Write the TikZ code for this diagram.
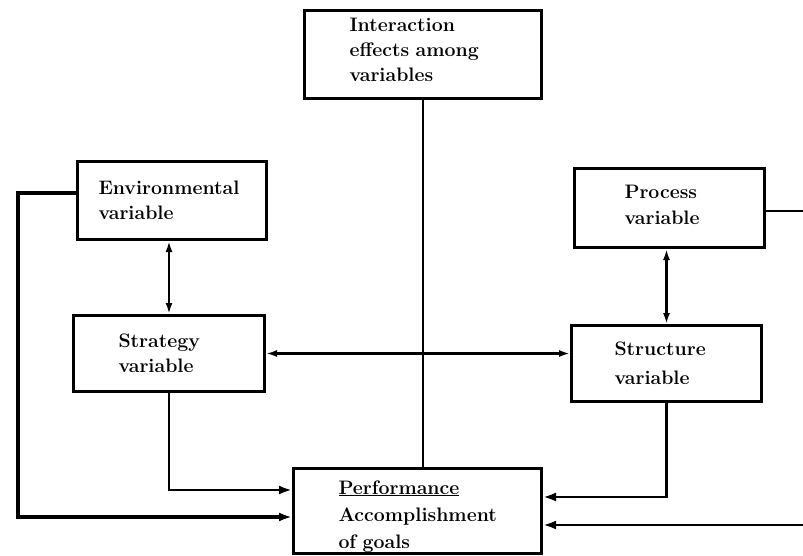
\documentclass[tikz,border=0pt]{standalone}
\usepackage{fontspec}
\usetikzlibrary{arrows.meta,calc}
\newcommand{\lnA}[3]{\makebox[#1][l]{\hspace*{#2}#3}}
\begin{document}
\begin{tikzpicture}[x=1pt,y=-1pt,
  box/.style={draw, line width=3pt, inner sep=0pt, align=left, anchor=north west,
    font=\fontsize{19.5}{25}\selectfont\bfseries},
  conn/.style={line width=2.6pt},
  arr/.style={conn, -{Latex[length=13pt,width=9pt]}},
  dbl/.style={conn, {Latex[length=11pt,width=7pt]}-{Latex[length=11pt,width=7pt]}}
]
\useasboundingbox (0,0) rectangle (803,556);
\clip (0,0) rectangle (803,556);

\node[box, text width=237pt, minimum height=88pt] (inter) at (303,9)
  {\lnA{237pt}{45pt}{Interaction}\\\lnA{237pt}{45pt}{effects among}\\\lnA{237pt}{45pt}{variables}\vspace*{10pt}};
\node[box, text width=189pt, minimum height=78pt] (env) at (76,160)
  {\lnA{189pt}{21pt}{Environmental}\\\lnA{189pt}{21pt}{variable}};
\node[box, text width=191pt, minimum height=76pt] (strat) at (72,314)
  {\lnA{191pt}{45pt}{Strategy}\\\lnA{191pt}{45pt}{variable}};
\node[box, text width=190pt, minimum height=79pt, font=\fontsize{19.5}{26}\selectfont\bfseries] (proc) at (573,167)
  {\lnA{190pt}{50pt}{Process}\\\lnA{190pt}{50pt}{variable}\vspace*{7pt}};
\node[box, text width=190pt, minimum height=76pt, font=\fontsize{19.5}{29}\selectfont\bfseries] (struct) at (570,324)
  {\lnA{190pt}{43pt}{Structure}\\\lnA{190pt}{43pt}{variable}};
\node[box, text width=248pt, minimum height=85pt, font=\fontsize{19.5}{27}\selectfont\bfseries] (perf) at (292,467)
  {\lnA{248pt}{45pt}{\rule{0pt}{24pt}\underline{Performance}}\\\lnA{248pt}{45pt}{Accomplishment}\\\lnA{248pt}{45pt}{of goals}};

% vertical double arrows
\draw[dbl] (env.south -| strat.north) -- (strat.north);
\draw[dbl] (proc.south -| struct.north) -- (struct.north);
% horizontal double arrow
\draw[dbl] (strat.east) -- (strat.east -| struct.west);

% interaction line
\draw[line width=1.8pt] (inter.south) -- (inter.south |- perf.north);

% strategy -> performance
\draw[arr] (strat.south) |- ([yshift=-23pt]perf.north west);
% environmental feedback -> performance
\coordinate (lc) at (18,517);
\draw[arr, line width=4pt] ([yshift=7pt]env.west) -| (lc) -- ([yshift=-50pt]perf.north west);
% structure -> performance
\draw[arr] (struct.south) |- ([yshift=-30pt]perf.north east);
% process -> performance (around the right edge)
\coordinate (rc) at (815,400);
\draw[arr] ([yshift=-3pt]proc.east) -| (rc) |- ([yshift=-58pt]perf.north east);
\end{tikzpicture}
\end{document}
